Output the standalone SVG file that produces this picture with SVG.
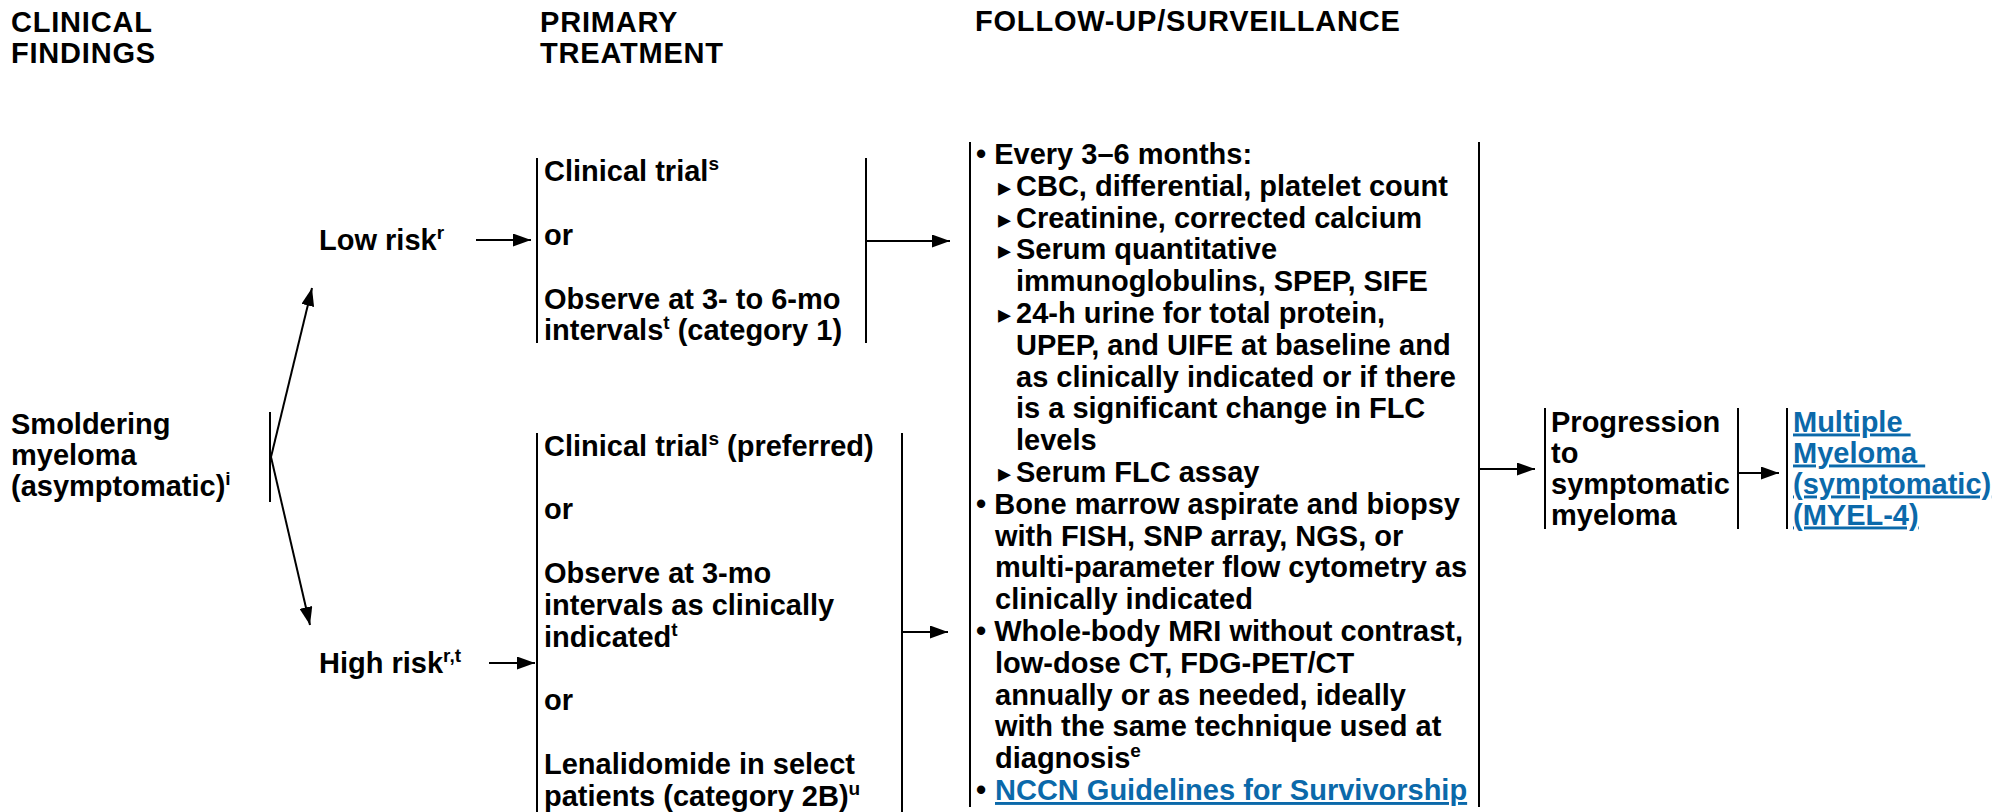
<svg xmlns="http://www.w3.org/2000/svg" width="1997" height="812" viewBox="0 0 1997 812">
<style>
.t{font-family:"Liberation Sans",Arial,Helvetica,sans-serif;font-weight:bold;font-size:29px;fill:#000}
.h{font-size:29px;letter-spacing:0.8px}
.sup{font-size:19px}
.lnk{fill:#0b69aa;text-decoration:underline;white-space:pre}
.tri{font-family:"DejaVu Sans",sans-serif;font-weight:normal;font-size:26px}
.bar{stroke:#000;stroke-width:2;fill:none}
.arr{stroke:#000;stroke-width:2;fill:none;marker-end:url(#ah)}
</style>
<defs>
<marker id="ah" viewBox="0 0 18 13" refX="18" refY="6.5" markerWidth="18" markerHeight="13" markerUnits="userSpaceOnUse" orient="auto">
<path d="M0,0 L18,6.5 L0,13 Z" fill="#000"/>
</marker>
</defs>
<rect width="1997" height="812" fill="#fff"/>

<g id="headers">
<text class="t h" x="11" y="31.5">CLINICAL</text>
<text class="t h" x="11" y="63.3">FINDINGS</text>
<text class="t h" x="540" y="31.5">PRIMARY</text>
<text class="t h" x="540" y="63.3">TREATMENT</text>
<text class="t h" x="975" y="31">FOLLOW-UP/SURVEILLANCE</text>
</g>

<g id="node-smoldering">
<text class="t" x="11" y="434">Smoldering</text>
<text class="t" x="11" y="465">myeloma</text>
<text class="t" x="11" y="496">(asymptomatic)<tspan class="sup" dy="-11">i</tspan></text>
<line class="bar" x1="270" y1="412" x2="270" y2="502"/>
</g>

<g id="node-lowrisk">
<text class="t" x="319" y="250">Low risk<tspan class="sup" dy="-11">r</tspan></text>
</g>

<g id="node-highrisk">
<text class="t" x="319" y="673">High risk<tspan class="sup" dy="-11">r,t</tspan></text>
</g>

<g id="node-lowtx">
<line class="bar" x1="537" y1="158" x2="537" y2="343"/>
<line class="bar" x1="866" y1="158" x2="866" y2="343"/>
<text class="t" x="544" y="181">Clinical trial<tspan class="sup" dy="-11">s</tspan></text>
<text class="t" x="544" y="245">or</text>
<text class="t" x="544" y="309">Observe at 3- to 6-mo</text>
<text class="t" x="544" y="340">intervals<tspan class="sup" dy="-11">t</tspan><tspan dy="11"> (category 1)</tspan></text>
</g>

<g id="node-hightx">
<line class="bar" x1="537" y1="433" x2="537" y2="812"/>
<line class="bar" x1="902" y1="433" x2="902" y2="812"/>
<text class="t" x="544" y="455.5">Clinical trial<tspan class="sup" dy="-11">s</tspan><tspan dy="11"> (preferred)</tspan></text>
<text class="t" x="544" y="519">or</text>
<text class="t" x="544" y="583">Observe at 3-mo</text>
<text class="t" x="544" y="614.7">intervals as clinically</text>
<text class="t" x="544" y="646.5">indicated<tspan class="sup" dy="-11">t</tspan></text>
<text class="t" x="544" y="710">or</text>
<text class="t" x="544" y="773.8">Lenalidomide in select</text>
<text class="t" x="544" y="805.6">patients (category 2B)<tspan class="sup" dy="-11">u</tspan></text>
</g>

<g id="node-followup">
<line class="bar" x1="970" y1="142" x2="970" y2="807"/>
<line class="bar" x1="1479" y1="142" x2="1479" y2="807"/>
<text class="t" x="976" y="164">• Every 3–6 months:</text>
<text class="t" x="998" y="195.8"><tspan class="tri">▸</tspan><tspan x="1016">CBC, differential, platelet count</tspan></text>
<text class="t" x="998" y="227.6"><tspan class="tri">▸</tspan><tspan x="1016">Creatinine, corrected calcium</tspan></text>
<text class="t" x="998" y="259.4"><tspan class="tri">▸</tspan><tspan x="1016">Serum quantitative</tspan></text>
<text class="t" x="1016" y="291.2">immunoglobulins, SPEP, SIFE</text>
<text class="t" x="998" y="323"><tspan class="tri">▸</tspan><tspan x="1016">24-h urine for total protein,</tspan></text>
<text class="t" x="1016" y="354.8">UPEP, and UIFE at baseline and</text>
<text class="t" x="1016" y="386.6">as clinically indicated or if there</text>
<text class="t" x="1016" y="418.4">is a significant change in FLC</text>
<text class="t" x="1016" y="450.2">levels</text>
<text class="t" x="998" y="482"><tspan class="tri">▸</tspan><tspan x="1016">Serum FLC assay</tspan></text>
<text class="t" x="976" y="513.8">• Bone marrow aspirate and biopsy</text>
<text class="t" x="995" y="545.6">with FISH, SNP array, NGS, or</text>
<text class="t" x="995" y="577.4">multi-parameter flow cytometry as</text>
<text class="t" x="995" y="609.2">clinically indicated</text>
<text class="t" x="976" y="641">• Whole-body MRI without contrast,</text>
<text class="t" x="995" y="672.8">low-dose CT, FDG-PET/CT</text>
<text class="t" x="995" y="704.6">annually or as needed, ideally</text>
<text class="t" x="995" y="736.4">with the same technique used at</text>
<text class="t" x="995" y="768.2">diagnosis<tspan class="sup" dy="-11">e</tspan></text>
<text class="t" x="976" y="800">• <tspan class="lnk" x="995">NCCN Guidelines for Survivorship</tspan></text>
</g>

<g id="node-progression">
<line class="bar" x1="1545" y1="408" x2="1545" y2="529"/>
<line class="bar" x1="1738" y1="408" x2="1738" y2="529"/>
<text class="t" x="1551" y="431.5">Progression</text>
<text class="t" x="1551" y="462.5">to</text>
<text class="t" x="1551" y="493.5">symptomatic</text>
<text class="t" x="1551" y="524.5">myeloma</text>
</g>

<g id="node-myel4">
<line class="bar" x1="1787" y1="408" x2="1787" y2="529"/>
<text class="t lnk" x="1793" y="431.5">Multiple </text>
<text class="t lnk" x="1793" y="462.5">Myeloma </text>
<text class="t lnk" x="1793" y="493.5">(symptomatic)</text>
<text class="t lnk" x="1793" y="524.5">(MYEL-4)</text>
</g>

<g id="connectors">
<line class="arr" x1="271" y1="457" x2="312" y2="288"/>
<line class="arr" x1="271" y1="457" x2="310" y2="625"/>
<line class="arr" x1="476" y1="240" x2="531" y2="240"/>
<line class="arr" x1="489" y1="663" x2="535" y2="663"/>
<line class="arr" x1="867" y1="241" x2="950" y2="241"/>
<line class="arr" x1="903" y1="632" x2="948" y2="632"/>
<line class="arr" x1="1480" y1="469" x2="1535" y2="469"/>
<line class="arr" x1="1739" y1="473" x2="1779" y2="473"/>
</g>
</svg>
